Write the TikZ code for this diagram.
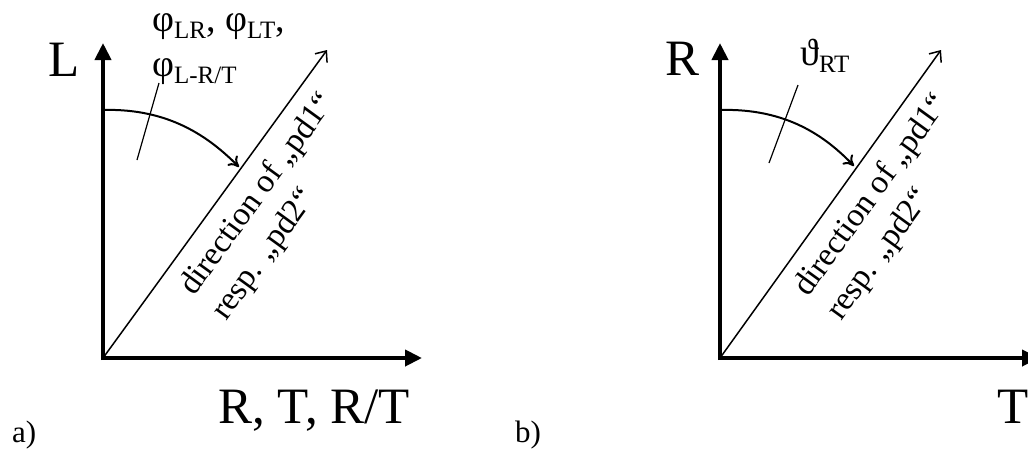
\documentclass[tikz,border=0pt]{standalone}
\usepackage{fontspec}
\setmainfont{Liberation Serif}
\usetikzlibrary{arrows.meta}
\newcommand{\mysub}[1]{\raisebox{-0.21em}{\fontsize{25}{25}\selectfont #1}}
\tikzset{
  axis/.style={line width=4pt,-{Triangle[length=17pt,width=16pt]}},
  dirline/.style={line width=1.5pt,-{Straight Barb[length=9pt,width=15pt,line width=1.5pt]}},
  turn/.style={line width=2pt,-{Computer Modern Rightarrow[length=10pt,width=14pt,line width=2pt]}},
  leader/.style={line width=1.2pt},
  biglabel/.style={inner sep=0pt,anchor=base west,font=\fontsize{51}{60}\selectfont},
  anglabel/.style={inner sep=0pt,anchor=base west,font=\fontsize{38}{44}\selectfont},
  dirlabel/.style={inner sep=0pt,anchor=base west,rotate=54,font=\fontsize{33}{39}\selectfont},
  partlabel/.style={inner sep=0pt,anchor=base west,font=\fontsize{31}{37}\selectfont},
}
\begin{document}
\begin{tikzpicture}[x=1pt,y=-1pt]
\useasboundingbox (0,0) rectangle (1028,451);
% ---------- panel a ----------
\coordinate (Oa) at (103,358);
\coordinate (Oav) at (103,360);
\coordinate (La) at (103,43);
\coordinate (Xa) at (422,358);
\coordinate (Da) at (327,50);
\coordinate (Aa0) at (103,110);
\coordinate (Aa1) at (239,167);
\coordinate (Pa0) at (159,83);
\coordinate (Pa1) at (137,160);
\draw[axis] (Oav) -- (La);
\draw[axis] (Oa) -- (Xa);
\draw[dirline] (Oa) -- (Da);
\draw[turn] (Aa0) .. controls (170,108) and (210,138) .. (Aa1);
\draw[leader] (Pa0) -- (Pa1);
\node[biglabel] (la) at (48,76) {L};
\node[biglabel] (xa) at (218,423) {R, T, R/T};
\node[anglabel] (pa1) at (152,31) {φ\mysub{LR}, φ\mysub{LT},};
\node[anglabel] (pa2) at (152,76) {φ\mysub{L-R/T}};
\node[dirlabel] (da1) at (194,297) {direction of „pd1“};
\node[dirlabel] (da2) at (226,322) {resp. „pd2“};
\node[partlabel] (a) at (12,442) {a)};
% ---------- panel b ----------
\coordinate (Ob) at (720,358);
\coordinate (Obv) at (720,360);
\coordinate (Lb) at (720,43);
\coordinate (Xb) at (1039,358);
\coordinate (Db) at (941,50);
\coordinate (Ab0) at (720,110);
\coordinate (Ab1) at (854,166);
\coordinate (Pb0) at (798,85);
\coordinate (Pb1) at (769,163);
\draw[axis] (Obv) -- (Lb);
\draw[axis] (Ob) -- (Xb);
\draw[dirline] (Ob) -- (Db);
\draw[turn] (Ab0) .. controls (787,108) and (826,137) .. (Ab1);
\draw[leader] (Pb0) -- (Pb1);
\node[biglabel] (lb) at (665,75) {R};
\node[biglabel,anchor=base east] (xb) at (1029,423) {T};
\node[anglabel] (pb) at (800,65) {ϑ\mysub{RT}};
\node[dirlabel] (db1) at (808,298) {direction of „pd1“};
\node[dirlabel] (db2) at (841,322) {resp. „pd2“};
\node[partlabel] (b) at (515,442) {b)};
\end{tikzpicture}
\end{document}
